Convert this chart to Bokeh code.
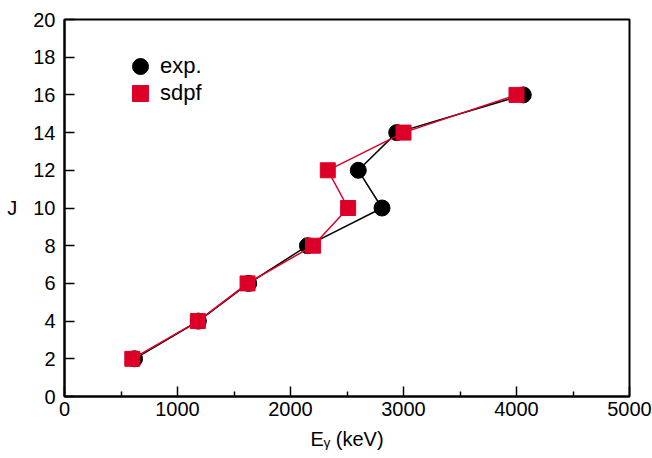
from bokeh.plotting import figure
from bokeh.models import Legend, LegendItem, FixedTicker
from bokeh.embed import file_html
from bokeh.resources import INLINE

# data
J_exp = [2, 4, 6, 8, 10, 12, 14, 16]
E_exp = [620, 1185, 1630, 2150, 2810, 2600, 2940, 4060]
J_sdpf = [2, 4, 6, 8, 10, 12, 14, 16]
E_sdpf = [600, 1180, 1620, 2200, 2510, 2330, 3000, 4000]
x_ticks = [0, 1000, 2000, 3000, 4000, 5000]
x_minor = [500, 1500, 2500, 3500, 4500]
y_ticks = [0, 2, 4, 6, 8, 10, 12, 14, 16, 18, 20]

FONT = "Liberation Sans"
RED = "#dc0028"

p = figure(width=652, height=458, x_range=(0, 5000), y_range=(0, 20),
           output_backend="svg", toolbar_location=None,
           min_border_left=64, min_border_right=23, min_border_top=19, min_border_bottom=62)
p.grid.visible = False
p.outline_line_color = "black"
p.outline_line_width = 2
p.background_fill_color = "white"
p.border_fill_color = "white"

for ax in (p.xaxis[0], p.yaxis[0]):
    ax.axis_line_width = 2
    ax.major_tick_in = 10
    ax.major_tick_out = 0
    ax.minor_tick_in = 5
    ax.minor_tick_out = 0
    ax.major_tick_line_width = 1.5
    ax.minor_tick_line_width = 1.5
    ax.major_label_text_font = FONT
    ax.major_label_text_font_size = "20px"
    ax.major_label_text_color = "black"
    ax.axis_label_text_font = FONT
    ax.axis_label_text_font_size = "20px"
    ax.axis_label_text_font_style = "normal"
    ax.axis_label_text_color = "black"

p.xaxis[0].ticker = FixedTicker(ticks=x_ticks, minor_ticks=x_minor)
p.yaxis[0].ticker = FixedTicker(ticks=y_ticks, minor_ticks=[])
p.xaxis[0].major_label_standoff = 5
p.yaxis[0].major_label_standoff = 9
p.xaxis[0].axis_label = "Eᵧ (keV)"
p.xaxis[0].axis_label_standoff = 9
p.yaxis[0].axis_label = "J"
p.yaxis[0].axis_label_orientation = "horizontal"
p.yaxis[0].axis_label_standoff = 13

# exp series
p.line(E_exp, J_exp, line_color="black", line_width=1.5)
r_exp = p.scatter(E_exp, J_exp, marker="circle", size=16, fill_color="black", line_color="black")
# sdpf series
p.line(E_sdpf, J_sdpf, line_color=RED, line_width=1.5)
r_sdpf = p.scatter(E_sdpf, J_sdpf, marker="square", size=15, fill_color=RED, line_color=RED)

common = dict(padding=0, margin=0, glyph_width=40, glyph_height=40, label_height=40,
              label_standoff=-14, label_text_font=FONT, label_text_font_size="22px",
              label_text_color="black",
              border_line_color=None, background_fill_alpha=0)
leg1 = Legend(items=[LegendItem(label="exp.", renderers=[r_exp])], location=(56, 310), **common)
leg2 = Legend(items=[LegendItem(label="sdpf", renderers=[r_sdpf])], location=(56, 283), **common)
p.add_layout(leg1, "center")
p.add_layout(leg2, "center")

open("out.html", "w").write(file_html(p, INLINE))
